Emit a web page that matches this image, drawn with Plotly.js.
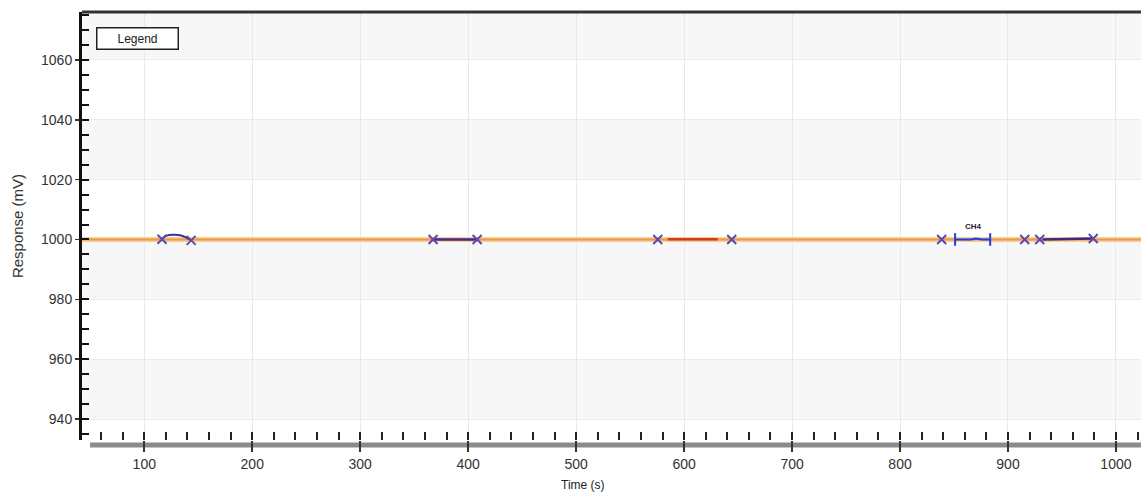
<!DOCTYPE html>
<html>
<head>
<meta charset="utf-8">
<script src="https://cdn.plot.ly/plotly-3.0.1.min.js"></script>
<style>
html,body{margin:0;padding:0;background:#fff;}
#chart{width:1141px;height:493px;}
</style>
</head>
<body>
<div id="chart"></div>
<script>
// ---- data ----
const baselineX = [42, 1024];
const baselineY = [1000, 1000];

const peak1X = [116.4, 119, 123, 128, 133, 138, 143.4];
const peak1Y = [1000.1, 1001.0, 1001.5, 1001.6, 1001.4, 1000.8, 999.7];

const peak2X = [367.5, 408.3];
const peak2Y = [1000.0, 1000.0];

const peak3X = [584.8, 631.1];
const peak3Y = [1000.1, 1000.1];

const peak4X = [851, 866, 870, 876, 883.5];
const peak4Y = [1000, 1000, 1000.3, 1000, 1000];
const peak4Label = "CH4";

const peak5X = [932, 979];
const peak5Y = [1000.0, 1000.3];

const markX = [116.4, 143.4, 367.5, 408.3, 575.6, 644.1, 838.6, 915.5, 929.4, 979.0];
const markY = [1000.1, 999.7, 1000, 1000, 1000, 1000, 1000, 1000, 1000, 1000.3];

const xTicks = [100, 200, 300, 400, 500, 600, 700, 800, 900, 1000];
const yTicks = [940, 960, 980, 1000, 1020, 1040, 1060];

const xRange = [42.3, 1023.2];
const yRange = [933.0, 1076.0];

// ---- traces ----
const traces = [
  {x: baselineX, y: baselineY, mode: 'lines', line: {color: '#f8cf9c', width: 5}, hoverinfo: 'skip'},
  {x: baselineX, y: baselineY, mode: 'lines', line: {color: '#eb9a3c', width: 2}},
  {x: peak1X, y: peak1Y, mode: 'lines', line: {color: '#3a2fa6', width: 2, shape: 'spline'}},
  {x: peak2X, y: peak2Y, mode: 'lines', line: {color: '#4a2a86', width: 2.5}},
  {x: peak3X, y: peak3Y, mode: 'lines', line: {color: '#d63a1e', width: 2.5}},
  {x: peak4X, y: peak4Y, mode: 'lines', line: {color: '#1f3fdc', width: 2}},
  {x: [peak4X[0], peak4X[peak4X.length-1]], y: [peak4Y[0], peak4Y[peak4Y.length-1]], mode: 'markers',
   marker: {symbol: 'line-ns-open', size: 9, color: '#1f3fdc', line: {color: '#1f3fdc', width: 2}}},
  {x: peak5X, y: peak5Y, mode: 'lines', line: {color: '#43297e', width: 2.5}},
  {x: markX, y: markY, mode: 'markers',
   marker: {symbol: 'x-thin-open', size: 9, color: '#5a4ab4', line: {color: '#5a4ab4', width: 2}}}
];

// alternating grey bands between y ticks
const shapes = [];
const greyBands = [[1060, yRange[1]], [1020, 1040], [980, 1000], [940, 960]];
greyBands.forEach(b => shapes.push({type: 'rect', xref: 'paper', x0: 0, x1: 1, yref: 'y', y0: b[0], y1: b[1],
  fillcolor: '#f7f7f7', line: {width: 0}, layer: 'below'}));
// top border
shapes.push({type: 'line', xref: 'paper', yref: 'paper', x0: 0, x1: 1, y0: 1, y1: 1, line: {color: '#333', width: 3}});
// x axis bar
shapes.push({type: 'line', xref: 'paper', yref: 'paper', x0: 0.0076, x1: 1, y0: -0.0117, y1: -0.0117,
  line: {color: '#8c8c8c', width: 5}, layer: 'below'});

const layout = {
  width: 1141, height: 493,
  margin: {l: 82, r: 0, t: 12, b: 53},
  paper_bgcolor: '#ffffff', plot_bgcolor: '#ffffff',
  showlegend: false,
  font: {family: 'Liberation Sans, Arial, sans-serif', color: '#333'},
  xaxis: {
    range: xRange, tickvals: xTicks, showline: false, zeroline: false,
    showgrid: true, gridcolor: '#e9e9e9', gridwidth: 1,
    ticks: 'outside', ticklen: 11, tickwidth: 2, tickcolor: '#333',
    tickfont: {size: 14, color: '#333'},
    minor: {dtick: 20, tick0: 0, ticks: 'inside', ticklen: 8, tickwidth: 2, tickcolor: '#222', showgrid: false}
  },
  yaxis: {
    range: yRange, tickvals: yTicks, showline: true, linecolor: '#111', linewidth: 3, zeroline: false,
    showgrid: true, gridcolor: '#ececec', gridwidth: 1,
    ticks: 'outside', ticklen: 4, tickwidth: 1.5, tickcolor: '#333',
    tickfont: {size: 14, color: '#333'},
    title: {text: 'Response (mV)', font: {size: 15, color: '#333'}, standoff: 14},
    minor: {dtick: 5, tick0: 0, ticks: 'inside', ticklen: 7, tickwidth: 2, tickcolor: '#111', showgrid: false}
  },
  shapes: shapes,
  annotations: [
    {xref: 'paper', yref: 'paper', x: 0.473, y: -0.105, yanchor: 'middle', text: 'Time (s)', showarrow: false,
     font: {size: 12, color: '#222'}},
    {xref: 'paper', yref: 'paper', x: 0.0133, y: 0.939, xanchor: 'left', yanchor: 'middle', text: 'Legend', showarrow: false,
     font: {size: 12, color: '#222'}, bordercolor: '#222', borderwidth: 1.5, borderpad: 2, bgcolor: '#fff',
     width: 76, height: 16},
    {x: 868, y: 1004.4, xref: 'x', yref: 'y', text: '<b>' + peak4Label + '</b>', showarrow: false,
     font: {size: 8, color: '#222'}}
  ]
};

Plotly.newPlot('chart', traces, layout, {displayModeBar: false, staticPlot: true});
</script>
</body>
</html>
